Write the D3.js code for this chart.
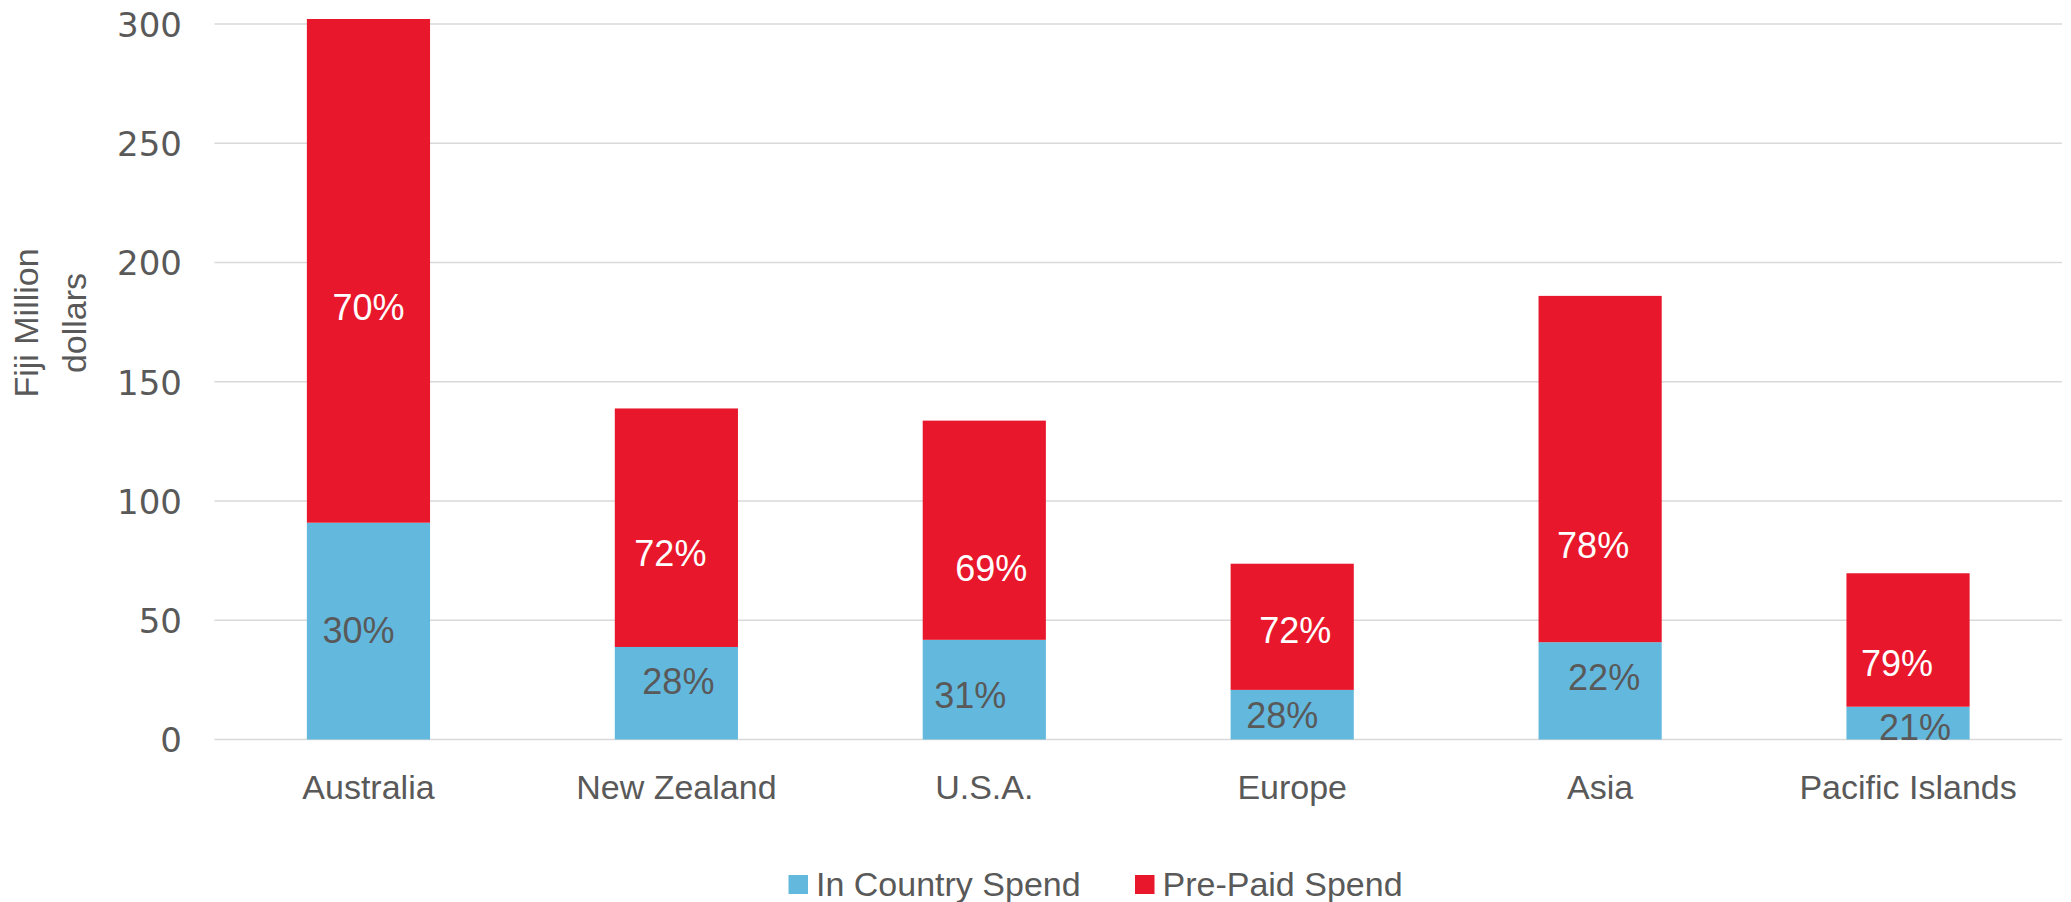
<!DOCTYPE html>
<html>
<head>
<meta charset="utf-8">
<script src="https://cdn.jsdelivr.net/npm/d3@7"></script>
<style>
  html, body { margin: 0; padding: 0; background: #ffffff; }
  svg { display: block; }
</style>
</head>
<body>
<script>
// ---- data ----
const categories = ["Australia", "New Zealand", "U.S.A.", "Europe", "Asia", "Pacific Islands"];
const inCountrySpend = [90.9, 38.8, 41.8, 20.8, 40.8, 13.75];
const prePaidSpend = [211.2, 100.0, 91.9, 52.9, 145.2, 55.95];
const inCountryPct = ["30%", "28%", "31%", "28%", "22%", "21%"];
const prePaidPct = ["70%", "72%", "69%", "72%", "78%", "79%"];
const seriesNames = ["In Country Spend", "Pre-Paid Spend"];
const yTicks = [0, 50, 100, 150, 200, 250, 300];
const yTitle = ["Fiji Million", "dollars"];
// label anchors (in data units, as placed in the original chart)
const inCountryLabelAt = [46, 24.4, 18.7, 10.3, 26.3, 5.4];
const prePaidLabelAt = [181.5, 78.1, 71.8, 45.9, 81.6, 32.2];
// small horizontal nudges of labels (px)
const inCountryLabelNudge = [-10, 2, -14, -10, 4, 7];
const prePaidLabelNudge = [0, -6, 7, 3, -7, -11];

// ---- layout ----
const W = 2071, H = 902;
const plotLeft = 214.5, plotRight = 2062, plotTop = 24, plotBottom = 739.5;
const colors = ["#63B8DE", "#E8172C"];
const textGrey = "#595959";
const font = "'Liberation Sans', Arial, sans-serif";

const svg = d3.select("body").append("svg").attr("width", W).attr("height", H);

const x = d3.scaleBand().domain(categories).range([plotLeft, plotRight]).paddingInner(0.6).paddingOuter(0.3);
const y = d3.scaleLinear().domain([0, 300]).range([plotBottom, plotTop]);

// gridlines
svg.append("g").selectAll("line").data(yTicks).join("line")
  .attr("x1", plotLeft).attr("x2", plotRight)
  .attr("y1", d => y(d)).attr("y2", d => y(d))
  .attr("stroke", "#D9D9D9").attr("stroke-width", 1.6);

// y axis labels
const yAxis = d3.axisLeft(y).tickValues(yTicks).tickSize(0).tickPadding(0);
const gy = svg.append("g").attr("transform", `translate(182,0)`).call(yAxis);
gy.select(".domain").remove();
gy.selectAll("text").attr("font-family", "'DejaVu Sans', sans-serif").attr("font-size", 34)
  .attr("fill", textGrey).attr("dy", "0.36em");

// x axis labels
const xAxis = d3.axisBottom(x).tickSize(0).tickPadding(0);
const gx = svg.append("g").attr("transform", `translate(0,799)`).call(xAxis);
gx.select(".domain").remove();
gx.selectAll("text").attr("font-family", font).attr("font-size", 34)
  .attr("fill", textGrey).attr("dy", 0);

// stacked bars
const rows = categories.map((c, i) => ({ cat: c, inCountry: inCountrySpend[i], prePaid: prePaidSpend[i] }));
const stack = d3.stack().keys(["inCountry", "prePaid"]);
const series = stack(rows);

svg.append("g").selectAll("g").data(series).join("g")
  .attr("fill", (d, i) => colors[i])
  .selectAll("rect").data(d => d).join("rect")
  .attr("x", d => x(d.data.cat))
  .attr("width", x.bandwidth())
  .attr("y", d => y(d[1]))
  .attr("height", d => y(d[0]) - y(d[1]));

// data labels
const lab = svg.append("g").attr("font-family", font).attr("font-size", 36).attr("text-anchor", "middle");
lab.selectAll("text.ic").data(categories).join("text").attr("class", "ic")
  .attr("x", (d, i) => x(d) + x.bandwidth() / 2 + inCountryLabelNudge[i])
  .attr("y", (d, i) => y(inCountryLabelAt[i]))
  .attr("dy", "0.36em")
  .attr("fill", textGrey)
  .text((d, i) => inCountryPct[i]);
lab.selectAll("text.pp").data(categories).join("text").attr("class", "pp")
  .attr("x", (d, i) => x(d) + x.bandwidth() / 2 + prePaidLabelNudge[i])
  .attr("y", (d, i) => y(prePaidLabelAt[i]))
  .attr("dy", "0.36em")
  .attr("fill", "#ffffff")
  .text((d, i) => prePaidPct[i]);

// y axis title
const yt = svg.append("g").attr("font-family", font).attr("font-size", 34).attr("fill", textGrey).attr("text-anchor", "middle");
yt.append("text").attr("transform", "translate(38,323) rotate(-90)").text(yTitle[0]);
yt.append("text").attr("transform", "translate(86,323) rotate(-90)").text(yTitle[1]);

// legend
const legendX = [788.5, 1135];
const lg = svg.append("g").selectAll("g").data(seriesNames).join("g")
  .attr("transform", (d, i) => `translate(${legendX[i]},875)`);
lg.append("rect").attr("width", 19.5).attr("height", 19).attr("fill", (d, i) => colors[i]);
lg.append("text").attr("x", 27.5).attr("y", 21)
  .attr("font-family", font).attr("font-size", 34).attr("fill", textGrey)
  .text(d => d);
</script>
</body>
</html>
